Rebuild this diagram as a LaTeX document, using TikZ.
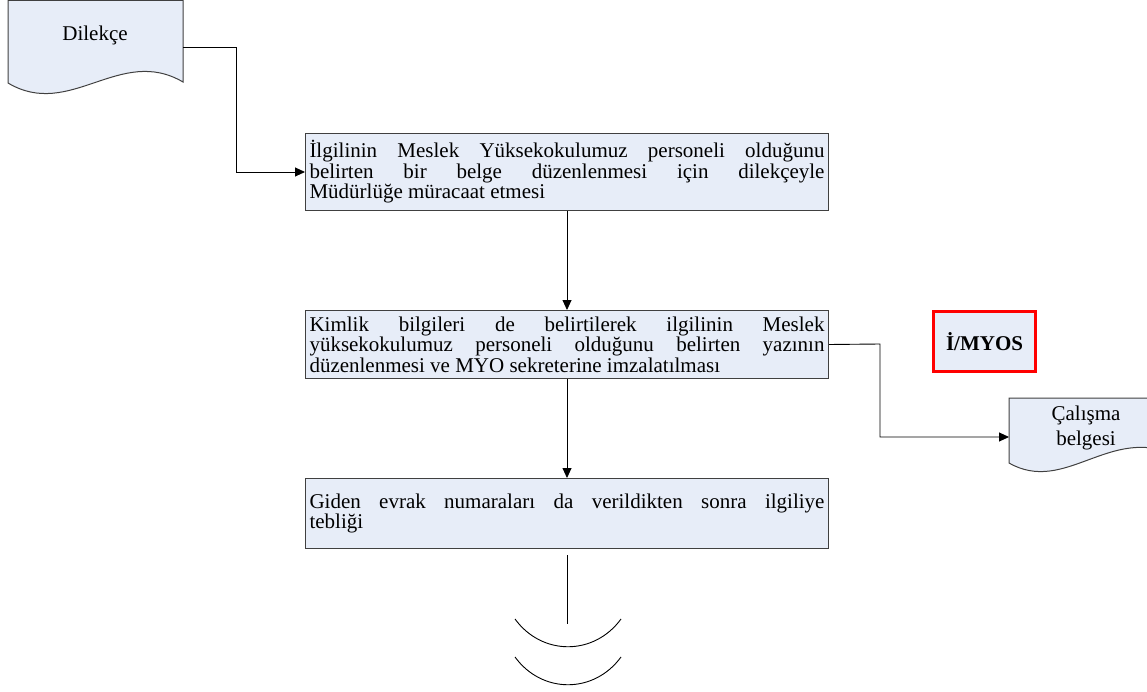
\documentclass[tikz,border=0pt]{standalone}
\usepackage{fontspec}
\setmainfont{Liberation Serif}
\usetikzlibrary{arrows.meta}
\definecolor{boxfill}{HTML}{E7EDF8}
\definecolor{boxline}{HTML}{404040}
\tikzset{
  x=1pt, y=-1pt,
  txt/.style={font=\fontsize{21}{20.5}\selectfont},
  procbox/.style={txt, draw=boxline, fill=boxfill, line width=1pt, minimum width=523pt,
     text width=515pt, align=justify, inner sep=4pt, anchor=north west},
  conn/.style={line width=0.9pt, black},
  arr/.style={conn, -{Triangle[length=10pt,width=9pt]}},
  docshape/.style={draw=boxline, fill=boxfill, line width=1pt},
}
\begin{document}
\begin{tikzpicture}
\useasboundingbox (0,0) rectangle (1147,692);
% Dilekce document
\draw[docshape] (8,0.5) -- (183,0.5) -- (183,82) .. controls (120,45) and (70,120) .. (8,83) -- cycle;
\node[txt] (dil) at (95,35) {Dilekçe};
\coordinate (dilR) at (183,47);
% boxes
\node[procbox, minimum height=77pt] (b1) at (305,133)
 {İlgilinin Meslek Yüksekokulumuz personeli olduğunu\linebreak belirten bir belge düzenlenmesi için dilekçeyle\linebreak Müdürlüğe müracaat etmesi};
\node[procbox, minimum height=68pt] (b2) at (305,310)
 {Kimlik bilgileri de belirtilerek ilgilinin Meslek\linebreak yüksekokulumuz personeli olduğunu belirten yazının\linebreak düzenlenmesi ve MYO sekreterine imzalatılması};
\node[procbox, minimum height=70pt] (b3) at (305,478)
 {Giden evrak numaraları da verildikten sonra ilgiliye\linebreak tebliği};
% red box
\node[txt, font=\fontsize{21}{20.5}\selectfont\bfseries, draw=red, line width=3pt, fill=boxfill,
  minimum width=102pt, minimum height=60pt] (myos) at (984.5,341.5) {İ/MYOS};
% Calisma belgesi document
\draw[docshape] (1009,398) -- (1175,398) -- (1175,455) .. controls (1110,425) and (1065,495) .. (1009,463) -- cycle;
\node[txt, align=center, font=\fontsize{21}{25}\selectfont] (cal) at (1086,428) {Çalışma\\belgesi};
\coordinate (calL) at (1009,437);
% connectors
\draw[arr] (dilR) -- (236,47) |- (b1.west);
\draw[arr] (b1.south) -- (b2.north);
\draw[arr] (b2.south) -- (b3.north);
\draw[arr] (b2.east) -- (880,344) |- (calL);
% end symbol
\coordinate (t1) at ([yshift=-6pt]b3.south);
\coordinate (t2) at ([yshift=-75pt]b3.south);
\draw[conn] (t1) -- (t2);
\draw[conn] (515,619) .. controls (542,656) and (594,656) .. (621,619);
\draw[conn] (515,657) .. controls (542,694) and (594,694) .. (621,657);
\end{tikzpicture}
\end{document}
